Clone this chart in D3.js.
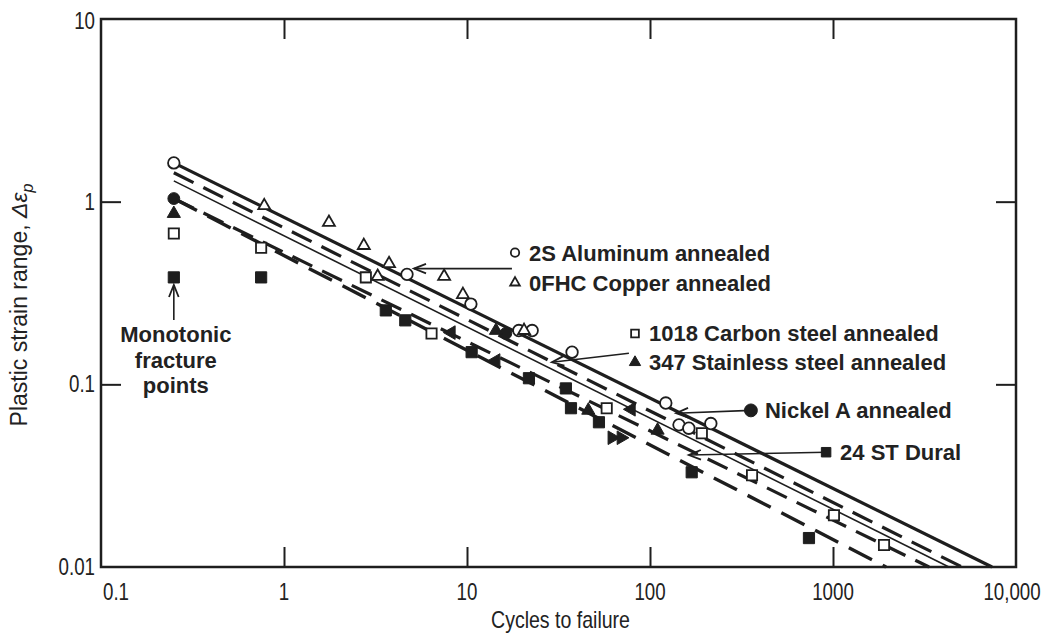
<!DOCTYPE html>
<html><head><meta charset="utf-8">
<script src="https://cdn.jsdelivr.net/npm/d3@7"></script>
<style>
html,body{margin:0;padding:0;background:#fff;}
svg{display:block;}
.lbl{font-family:"Liberation Sans",Arial,sans-serif;font-weight:bold;font-size:22px;fill:#222;}
.tick{font-family:"Liberation Sans",Arial,sans-serif;font-size:24px;fill:#222;}
</style></head>
<body>
<script>
// ---------- data ----------
const xTicks = [0.1, 1, 10, 100, 1000, 10000];
const xTickLabels = ["0.1", "1", "10", "100", "1000", "10,000"];
const yTicks = [0.01, 0.1, 1, 10];
const yTickLabels = ["0.01", "0.1", "1", "10"];

// fitted lines: [startCycles, startStrain, endCycles, endStrain]
const lineNames = ["2S Aluminum", "0FHC Copper", "1018 Carbon steel", "347 Stainless / Nickel A", "24 ST Dural"];
const lineEnds = [
  [0.25, 1.63, 7400, 0.01],
  [0.25, 1.44, 5070, 0.01],
  [0.25, 1.30, 4300, 0.01],
  [0.25, 1.04, 3350, 0.01],
  [0.25, 1.04, 1950, 0.01]
];

const aluminumPts = [[0.25,1.63],[4.7,0.40],[10.5,0.275],[19.2,0.197],[22.7,0.197],[37.5,0.15],[122,0.079],[144,0.060],[163,0.0575],[215,0.061]];
const copperPts = [[0.78,0.95],[1.76,0.77],[2.73,0.575],[3.75,0.458],[3.25,0.39],[7.5,0.39],[9.5,0.31],[20.5,0.197]];
const carbonPts = [[0.25,0.67],[0.75,0.56],[2.8,0.385],[6.4,0.19],[58,0.074],[192,0.054],[361,0.0318],[1012,0.0192],[1900,0.0132]];
const nickelPts = [[0.25,1.04],[16.3,0.19]];
const stainlessPts = [[0.25,0.86],[14.4,0.197],[46,0.072],[110,0.056]];
const duralPts = [[0.25,0.385],[0.75,0.385],[3.6,0.254],[4.6,0.224],[10.6,0.15],[21.8,0.108],[34.7,0.095],[37,0.074],[52.6,0.062],[169,0.033],[739,0.0144]];
const leftTriPts = [[8.2,0.192],[14.4,0.135],[79,0.073]];
const rightTriPts = [[62,0.051],[69.5,0.051]];

// annotations (data coordinates)
const legendLabels = ["2S Aluminum annealed","0FHC Copper annealed","1018 Carbon steel annealed","347 Stainless steel annealed","Nickel A annealed","24 ST Dural"];
const legendAnchors = [[18.3,0.526],[18.3,0.36],[82.8,0.19],[82.8,0.132],[356,0.072],[917,0.0425]];
const arrowPairs = [ // [tailX, tailY, tipX, tipY]
  [17.6,0.43,5.13,0.43],
  [76.7,0.148,29.1,0.132],
  [356,0.072,139,0.0695],
  [917,0.0425,163,0.041],
  [0.25,0.225,0.25,0.35]
];
const monoText = ["Monotonic","fracture","points"];

// ---------- chart ----------
const W = 1049, H = 639;
const svg = d3.select("body").append("svg").attr("width", W).attr("height", H);
const x = d3.scaleLog().domain([0.1, 10000]).range([101, 1016]);
const y = d3.scaleLog().domain([0.01, 10]).range([567, 19]);
const ink = "#1e1e1e";

// frame
svg.append("rect").attr("x", x(0.1)).attr("y", y(10)).attr("width", x(10000)-x(0.1)).attr("height", y(0.01)-y(10))
  .attr("fill","none").attr("stroke", ink).attr("stroke-width", 2.5);

// inward ticks via axes
const tickLen = 20;
function styleAxis(g) { g.select(".domain").remove(); g.selectAll("line").attr("stroke", ink).attr("stroke-width", 2); }
svg.append("g").attr("transform", `translate(0,${y(0.01)})`)
  .call(d3.axisTop(x).tickValues(xTicks.slice(1,-1)).tickSize(tickLen).tickFormat("")).call(styleAxis);
svg.append("g").attr("transform", `translate(0,${y(10)})`)
  .call(d3.axisBottom(x).tickValues(xTicks.slice(1,-1)).tickSize(tickLen).tickFormat("")).call(styleAxis);
svg.append("g").attr("transform", `translate(${x(0.1)},0)`)
  .call(d3.axisRight(y).tickValues(yTicks.slice(1,-1)).tickSize(tickLen).tickFormat("")).call(styleAxis);
svg.append("g").attr("transform", `translate(${x(10000)},0)`)
  .call(d3.axisLeft(y).tickValues(yTicks.slice(1,-1)).tickSize(tickLen).tickFormat("")).call(styleAxis);

// tick labels (condensed look)
const cond = 0.78;
svg.selectAll(".xt").data(xTicks).enter().append("text").attr("class","tick")
  .attr("transform", (d) => `translate(${x(d) + (d === 0.1 ? 15 : (d === 10000 ? -4 : 0))},${y(0.01) + 33}) scale(${cond},1)`)
  .attr("text-anchor","middle")
  .text((d,i) => xTickLabels[i]);
svg.selectAll(".yt").data(yTicks).enter().append("text").attr("class","tick")
  .attr("transform", d => `translate(${x(0.1) - 6},${y(d) + (d === 10 ? 10 : 8)}) scale(${cond},1)`)
  .attr("text-anchor","end")
  .text((d,i) => yTickLabels[i]);

// axis titles
svg.append("text").attr("class","tick")
  .attr("transform", `translate(${(x(0.1)+x(10000))/2 + 2},628) scale(0.85,1)`)
  .attr("text-anchor","middle").style("font-size","23px").text("Cycles to failure");
const yt = svg.append("text").attr("class","tick").style("font-size","23px")
  .attr("transform", `translate(27,${(y(10)+y(0.01))/2 + 12}) rotate(-90)`).attr("text-anchor","middle");
yt.append("tspan").text("Plastic strain range, ");
yt.append("tspan").style("font-style","italic").text("Δε");
yt.append("tspan").style("font-style","italic").style("font-size","16px").attr("dy", 6).text("p");

// fitted lines
const lineStyles = [
  {w: 3.2, dash: null},
  {w: 3.2, dash: "22,11"},
  {w: 1.6, dash: null},
  {w: 3.2, dash: "22,11"},
  {w: 3.4, dash: "26,12"}
];
svg.selectAll(".fit").data(lineEnds).enter().append("line")
  .attr("x1", d => x(d[0])).attr("y1", d => y(d[1]))
  .attr("x2", d => x(d[2])).attr("y2", d => y(d[3]))
  .attr("stroke", ink)
  .attr("stroke-width", (d,i) => lineStyles[i].w)
  .attr("stroke-dasharray", (d,i) => lineStyles[i].dash);

// marker helpers
function sym(type, size) { return d3.symbol().type(type).size(size)(); }
function drawPts(pts, type, size, filled, rot) {
  svg.append("g").selectAll("path").data(pts).enter().append("path")
    .attr("d", sym(type, size))
    .attr("transform", d => `translate(${x(d[0])},${y(d[1])}) rotate(${rot||0})`)
    .attr("fill", filled ? ink : "#fff").attr("stroke", ink).attr("stroke-width", filled ? 1 : 1.8);
}
drawPts(aluminumPts, d3.symbolCircle, 105, false);
drawPts(copperPts, d3.symbolTriangle, 62, false);
drawPts(carbonPts, d3.symbolSquare, 105, false);
drawPts(nickelPts, d3.symbolCircle, 110, true);
drawPts(stainlessPts, d3.symbolTriangle, 75, true);
drawPts(duralPts, d3.symbolSquare, 125, true);
drawPts(leftTriPts, d3.symbolTriangle, 80, true, -90);
drawPts(rightTriPts, d3.symbolTriangle, 80, true, 90);

// arrows
function arrow(t) {
  const x1 = x(t[0]), y1 = y(t[1]), x2 = x(t[2]), y2 = y(t[3]);
  svg.append("line").attr("x1",x1).attr("y1",y1).attr("x2",x2).attr("y2",y2).attr("stroke",ink).attr("stroke-width",1.6);
  const a = Math.atan2(y2-y1, x2-x1), L = 13, s = 0.38;
  const p = d3.path();
  p.moveTo(x2 - L*Math.cos(a-s), y2 - L*Math.sin(a-s));
  p.lineTo(x2, y2);
  p.lineTo(x2 - L*Math.cos(a+s), y2 - L*Math.sin(a+s));
  svg.append("path").attr("d", p.toString()).attr("fill","none").attr("stroke",ink).attr("stroke-width",1.8);
}
arrowPairs.forEach(arrow);

// legend labels
const legendTypes = [
  [d3.symbolCircle, 55, false],[d3.symbolTriangle, 40, false],[d3.symbolSquare, 60, false],
  [d3.symbolTriangle, 55, true],[d3.symbolCircle, 130, true],[d3.symbolSquare, 90, true]
];
legendLabels.forEach((t, i) => {
  const [lx, ly] = legendAnchors[i];
  const [ty, sz, f] = legendTypes[i];
  svg.append("path").attr("d", sym(ty, sz)).attr("transform", `translate(${x(lx)},${y(ly)})`)
    .attr("fill", f ? ink : "#fff").attr("stroke", ink).attr("stroke-width", f ? 1 : 1.8);
  svg.append("text").attr("class","lbl").attr("x", x(lx) + 14).attr("y", y(ly) + 8).text(t);
});

// monotonic label
monoText.forEach((t, i) => {
  svg.append("text").attr("class","lbl").attr("x", x(0.25) + 2).attr("y", y(0.225) + 22 + i*25.5)
    .attr("text-anchor","middle").text(t);
});
</script>
</body></html>
